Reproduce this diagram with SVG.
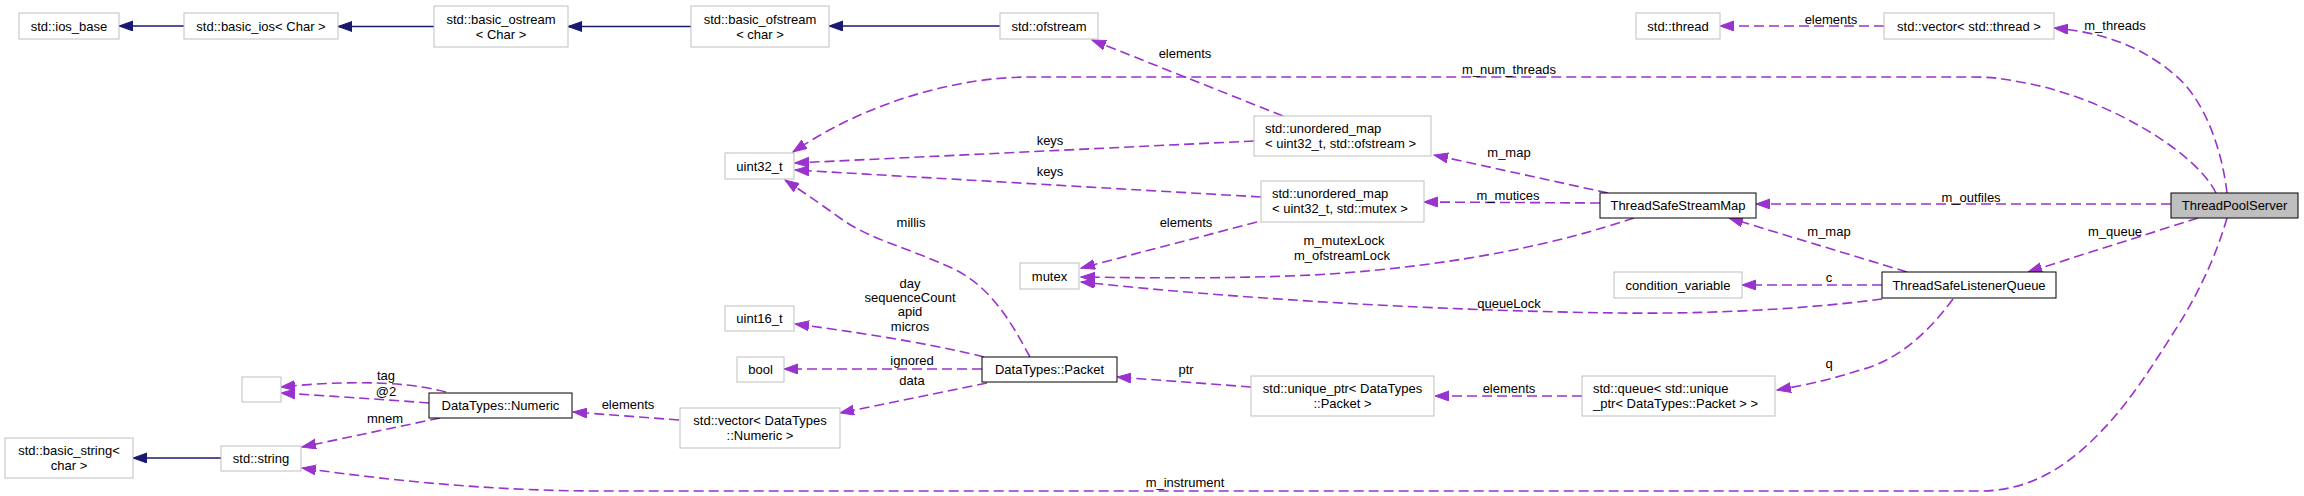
<svg xmlns="http://www.w3.org/2000/svg" width="2304" height="496" viewBox="0 0 2304 496">
<defs>
<style>
text{font-family:"Liberation Sans",Arial,Helvetica,sans-serif;font-size:13px;fill:#000}
.c{text-anchor:middle}
.l{text-anchor:start}
.g rect{fill:#fff;stroke:#bfbfbf;stroke-width:1}
.b rect{fill:#fff;stroke:#000;stroke-width:1}
.s rect{fill:#bfbfbf;stroke:#000;stroke-width:1}
.u{fill:none;stroke:#9a32cd;stroke-width:1.6;stroke-dasharray:10,5;marker-end:url(#pa)}
.i{fill:none;stroke:#191970;stroke-width:1.6;marker-end:url(#na)}
</style>
<marker id="pa" markerUnits="userSpaceOnUse" markerWidth="15" markerHeight="11" refX="14" refY="5" orient="auto" viewBox="0 0 15 11"><path d="M0,0 L14,5 L0,10 z" fill="#9a32cd" stroke="#9a32cd" stroke-width="1"/></marker>
<marker id="na" markerUnits="userSpaceOnUse" markerWidth="15" markerHeight="11" refX="14" refY="5" orient="auto" viewBox="0 0 15 11"><path d="M0,0 L14,5 L0,10 z" fill="#191970" stroke="#191970" stroke-width="1"/></marker>
</defs>
<rect width="2304" height="496" fill="#fff"/>
<g id="edges">
<path class="i" d="M184,26 L119,26"/>
<path class="i" d="M434,26.5 L338,26.5"/>
<path class="i" d="M691,26.5 L568,26.5"/>
<path class="i" d="M1000,26 L829,26"/>
<path class="i" d="M221,458 L133,458"/>
<path class="u" d="M1884,26 L1720,26"/>
<text class="c" x="1831" y="23.5">elements</text>
<path class="u" d="M2227,193 C2222,150 2205,100 2175,75 C2140,45 2100,32 2054,28"/>
<text class="c" x="2115" y="29.5">m_threads</text>
<path class="u" d="M2216,193 C2195,150 2100,95 2020,82 C2000,78 1990,77 1970,77 L1030,77 C960,77 870,100 793,152"/>
<text class="c" x="1509" y="73.5">m_num_threads</text>
<path class="u" d="M1283,116 L1092,40"/>
<text class="c" x="1185" y="57.5">elements</text>
<path class="u" d="M1254,141 L795,163"/>
<text class="c" x="1050" y="144.5">keys</text>
<path class="u" d="M1261,197 L795,170"/>
<text class="c" x="1050" y="176">keys</text>
<path class="u" d="M1608,193 L1434,155"/>
<text class="c" x="1509" y="156.5">m_map</text>
<path class="u" d="M1600,203 L1424,202"/>
<text class="c" x="1508" y="199.5">m_mutices</text>
<path class="u" d="M2171,204 L1756,204"/>
<text class="c" x="1971" y="201.5">m_outfiles</text>
<path class="u" d="M2198,218 L2028,272"/>
<text class="c" x="2115" y="236">m_queue</text>
<path class="u" d="M1907,272 L1729,218"/>
<text class="c" x="1829" y="236">m_map</text>
<path class="u" d="M1882,285 L1742,285"/>
<text class="c" x="1829" y="281.5">c</text>
<path class="u" d="M1634,218 C1560,243 1460,265 1330,274 C1250,279 1150,278 1081,277"/>
<text class="c" x="1344" y="245">m_mutexLock</text>
<text class="c" x="1342" y="260">m_ofstreamLock</text>
<path class="u" d="M1257,222 L1081,268"/>
<text class="c" x="1186" y="227">elements</text>
<path class="u" d="M1882,299 C1800,310 1700,314 1620,313 C1450,311 1250,300 1081,282"/>
<text class="c" x="1509" y="308">queueLock</text>
<path class="u" d="M1953,299 C1930,330 1900,360 1860,370 C1830,380 1800,386 1777,390"/>
<text class="c" x="1829" y="368">q</text>
<path class="u" d="M1582,396 L1435,396"/>
<text class="c" x="1509" y="393">elements</text>
<path class="u" d="M1251,387 L1117,377"/>
<text class="c" x="1186" y="373.5">ptr</text>
<path class="u" d="M1030,357 C1015,330 995,290 956,270 C915,250 870,240 840,218 C815,200 800,190 785,180"/>
<text class="c" x="911" y="226.5">millis</text>
<path class="u" d="M984,357 C950,348 880,335 795,324"/>
<text class="c" x="910" y="288">day</text>
<text class="c" x="910" y="301.5">sequenceCount</text>
<text class="c" x="910" y="316">apid</text>
<text class="c" x="910" y="330.5">micros</text>
<path class="u" d="M982,369 L784,369"/>
<text class="c" x="912" y="365">ignored</text>
<path class="u" d="M987,383 L840,413"/>
<text class="c" x="912" y="385">data</text>
<path class="u" d="M679,420 L573,412"/>
<text class="c" x="628" y="409">elements</text>
<path class="u" d="M446,392 C420,385 370,378 281,387"/>
<text class="c" x="386" y="379.5">tag</text>
<path class="u" d="M429,403 C390,400 330,396 281,393"/>
<text class="c" x="386" y="396">@2</text>
<path class="u" d="M440,418 L302,447"/>
<text class="c" x="385" y="423">mnem</text>
<path class="u" d="M2227,218 C2215,260 2195,300 2172,335 C2150,370 2130,400 2109,423 C2080,455 2040,491 1980,491 L600,491 C500,491 400,482 302,468"/>
<text class="c" x="1185" y="487">m_instrument</text>
</g>
<g id="n_ios_base" class="g"><rect x="19" y="13" width="100" height="26"/><text class="c" x="69" y="30.5">std::ios_base</text></g>
<g id="n_basic_ios" class="g"><rect x="184" y="13" width="154" height="26"/><text class="c" x="261" y="30.5">std::basic_ios&lt; Char &gt;</text></g>
<g id="n_basic_ostream" class="g"><rect x="434" y="6" width="134" height="41"/><text class="c" x="501" y="23.5">std::basic_ostream</text><text class="c" x="501" y="38.5">&lt; Char &gt;</text></g>
<g id="n_basic_ofstream" class="g"><rect x="691" y="6" width="138" height="41"/><text class="c" x="760" y="23.5">std::basic_ofstream</text><text class="c" x="760" y="38.5">&lt; char &gt;</text></g>
<g id="n_ofstream" class="g"><rect x="1000" y="13" width="98" height="26"/><text class="c" x="1049" y="30.5">std::ofstream</text></g>
<g id="n_thread" class="g"><rect x="1636" y="13" width="84" height="26"/><text class="c" x="1678" y="30.5">std::thread</text></g>
<g id="n_vector_thread" class="g"><rect x="1884" y="13" width="170" height="26"/><text class="c" x="1969" y="30.5">std::vector&lt; std::thread &gt;</text></g>
<g id="n_uint32" class="g"><rect x="725" y="153" width="69" height="26"/><text class="c" x="759.5" y="170.5">uint32_t</text></g>
<g id="n_umap_ofstream" class="g"><rect x="1254" y="116" width="177" height="40"/><text class="l" x="1265" y="132.5">std::unordered_map</text><text class="l" x="1265" y="147.5">&lt; uint32_t, std::ofstream &gt;</text></g>
<g id="n_umap_mutex" class="g"><rect x="1261" y="181" width="163" height="41"/><text class="l" x="1272" y="198">std::unordered_map</text><text class="l" x="1272" y="213">&lt; uint32_t, std::mutex &gt;</text></g>
<g id="n_tssm" class="b"><rect x="1600" y="193" width="156" height="25"/><text class="c" x="1678" y="210">ThreadSafeStreamMap</text></g>
<g id="n_tps" class="s"><rect x="2171" y="193" width="127" height="25"/><text class="c" x="2234.5" y="210">ThreadPoolServer</text></g>
<g id="n_mutex" class="g"><rect x="1020" y="263" width="59" height="26"/><text class="c" x="1049.5" y="280.5">mutex</text></g>
<g id="n_condvar" class="g"><rect x="1614" y="272" width="128" height="26"/><text class="c" x="1678" y="289.5">condition_variable</text></g>
<g id="n_tslq" class="b"><rect x="1882" y="272" width="174" height="26"/><text class="c" x="1969" y="289.5">ThreadSafeListenerQueue</text></g>
<g id="n_uint16" class="g"><rect x="725" y="306" width="69" height="25"/><text class="c" x="759.5" y="323">uint16_t</text></g>
<g id="n_bool" class="g"><rect x="737" y="357" width="47" height="25"/><text class="c" x="760.5" y="374">bool</text></g>
<g id="n_packet" class="b"><rect x="982" y="357" width="135" height="25"/><text class="c" x="1049.5" y="374">DataTypes::Packet</text></g>
<g id="n_unique_ptr" class="g"><rect x="1251" y="376" width="183" height="40"/><text class="c" x="1342.5" y="392.5">std::unique_ptr&lt; DataTypes</text><text class="c" x="1342.5" y="407.5">::Packet &gt;</text></g>
<g id="n_queue" class="g"><rect x="1582" y="376" width="193" height="40"/><text class="l" x="1593" y="392.5">std::queue&lt; std::unique</text><text class="l" x="1593" y="407.5">_ptr&lt; DataTypes::Packet &gt; &gt;</text></g>
<g id="n_empty" class="g"><rect x="242" y="377" width="39" height="25"/></g>
<g id="n_numeric" class="b"><rect x="429" y="393" width="143" height="25"/><text class="c" x="500.5" y="410">DataTypes::Numeric</text></g>
<g id="n_vector_numeric" class="g"><rect x="680" y="408" width="160" height="40"/><text class="c" x="760" y="424.5">std::vector&lt; DataTypes</text><text class="c" x="760" y="439.5">::Numeric &gt;</text></g>
<g id="n_string" class="g"><rect x="221" y="446" width="80" height="25"/><text class="c" x="261" y="463">std::string</text></g>
<g id="n_basic_string" class="g"><rect x="5" y="438" width="128" height="40"/><text class="c" x="69" y="454.5">std::basic_string&lt;</text><text class="c" x="69" y="469.5">char &gt;</text></g>
</svg>
